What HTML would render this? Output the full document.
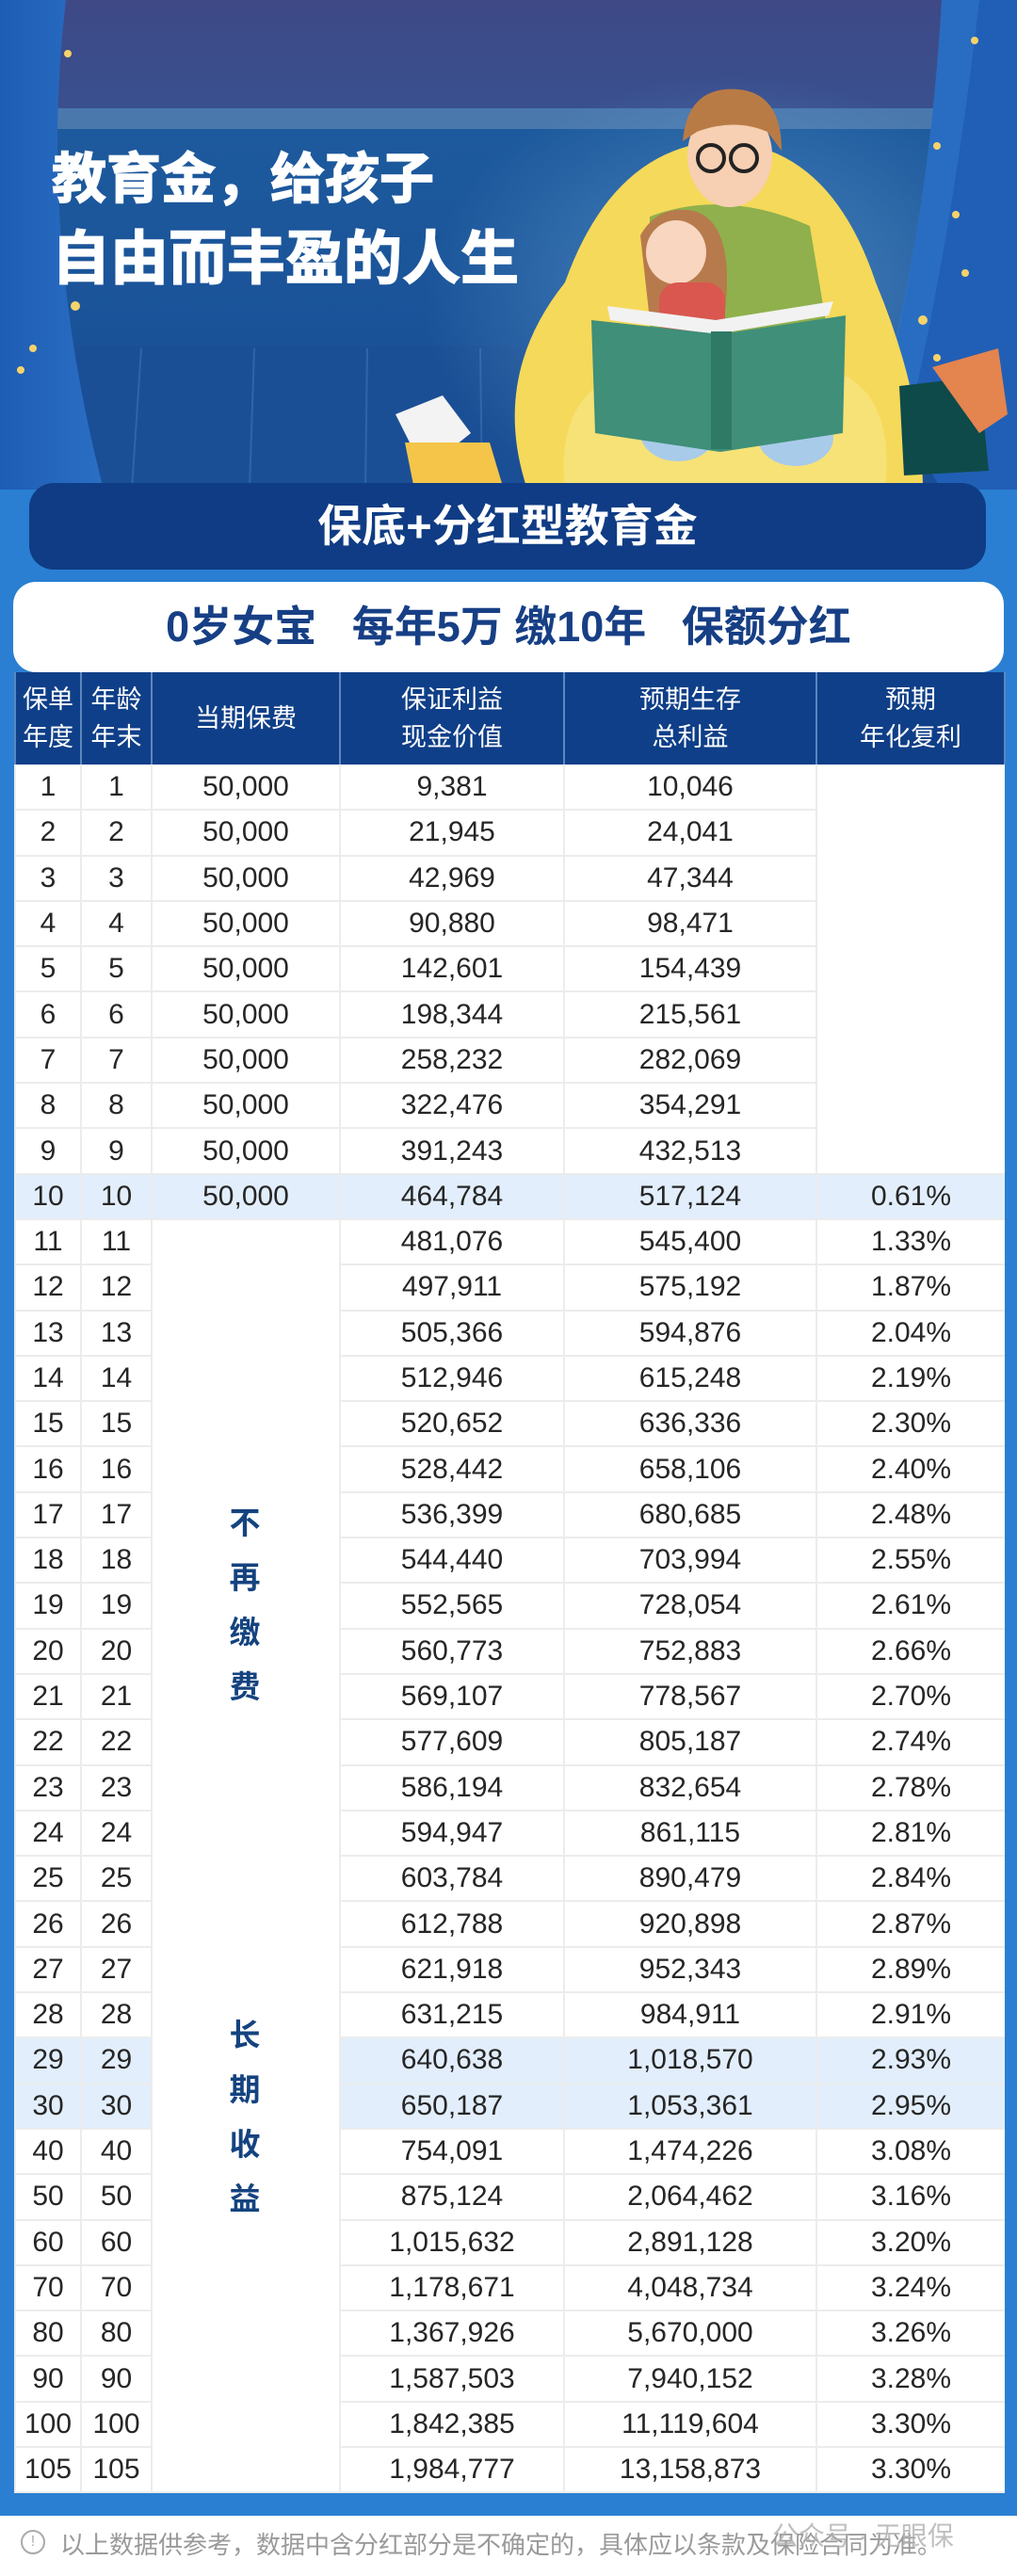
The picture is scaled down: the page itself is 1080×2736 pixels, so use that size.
<!DOCTYPE html>
<html><head><meta charset="utf-8">
<style>
*{margin:0;padding:0;box-sizing:border-box}
body{width:1080px;height:2736px;position:relative;background:#fff;font-family:"Liberation Sans","Noto Sans CJK SC",sans-serif;overflow:hidden}
.abs{position:absolute}
#blue{left:0;width:1080px;top:520px;height:2152px;background:#2a7fd2}
#bar{left:31px;top:513px;width:1016px;height:92px;border-radius:26px;background:#0f3c84;color:#fff;font-weight:bold;font-size:47px;text-align:center;line-height:92px}
#sub{left:14px;top:618px;width:1052px;height:96px;border-radius:24px;background:#fff;color:#173f85;font-weight:bold;font-size:45px;text-align:center;line-height:96px}
table{position:absolute;left:15px;top:714px;width:1051px;border-collapse:collapse;table-layout:fixed}
th{background:#0f3f88;color:#fff;font-weight:normal;font-size:27px;line-height:40px;height:98px;border-left:2px solid #5d86bf;border-right:2px solid #5d86bf}
td{height:48.3px;font-size:30px;color:#262626;text-align:center;border-bottom:2px solid #ececec;border-left:2px solid #ececec;background:#fff;padding:0}
tr.h td.c{background:#e2eefb}
.vt{color:#14437f;font-weight:bold;font-size:33px;width:60px;text-align:center;line-height:58px}
#foot{left:0;top:2672px;width:1080px;height:64px;background:#fff}
</style></head><body>
<svg class="abs" style="left:0;top:0" width="1080" height="520" viewBox="0 0 1080 520">
<defs>
<linearGradient id="sky" x1="0" y1="0" x2="0" y2="1"><stop offset="0" stop-color="#3e4986"/><stop offset="1" stop-color="#39508f"/></linearGradient>
<linearGradient id="wall" x1="0" y1="0" x2="0" y2="1"><stop offset="0" stop-color="#1d5a9d"/><stop offset="1" stop-color="#1a5298"/></linearGradient>
<linearGradient id="cur" x1="0" y1="0" x2="1" y2="0"><stop offset="0" stop-color="#1f5db5"/><stop offset="1" stop-color="#2a6fc4"/></linearGradient>
<radialGradient id="glow" cx="0.5" cy="0.5" r="0.5"><stop offset="0" stop-color="#6ea9d8" stop-opacity="0.6"/><stop offset="1" stop-color="#6ea9d8" stop-opacity="0"/></radialGradient>
</defs>
<rect width="1080" height="520" fill="#1a5399"/>
<rect x="0" y="0" width="1080" height="120" fill="url(#sky)"/>
<rect x="0" y="115" width="1080" height="22" fill="#4a78ad"/>
<rect x="0" y="137" width="1080" height="230" fill="url(#wall)"/>
<rect x="0" y="367" width="1080" height="153" fill="#1b4f95"/>
<g stroke="#2c66a8" stroke-width="2"><line x1="150" y1="370" x2="140" y2="520"/><line x1="270" y1="370" x2="265" y2="520"/><line x1="390" y1="370" x2="388" y2="520"/><line x1="510" y1="370" x2="512" y2="520"/></g>
<ellipse cx="780" cy="320" rx="330" ry="240" fill="url(#glow)"/>
<path d="M0 0 L70 0 Q40 250 110 520 L0 520Z" fill="url(#cur)"/>
<path d="M1080 0 L1000 0 Q990 200 940 420 L1000 520 L1080 520Z" fill="#215fb6"/>
<path d="M1000 0 Q985 250 930 440 L960 470 Q1010 260 1040 0Z" fill="#2e76c9" opacity="0.6"/>
<g fill="#f6d36a"><circle cx="72" cy="57" r="4"/><circle cx="80" cy="325" r="5"/><circle cx="35" cy="370" r="4"/><circle cx="22" cy="393" r="4"/><circle cx="1035" cy="43" r="4"/><circle cx="995" cy="155" r="4"/><circle cx="1015" cy="228" r="4"/><circle cx="980" cy="340" r="5"/><circle cx="995" cy="380" r="4"/><circle cx="1025" cy="290" r="4"/></g>
<path d="M560 520 Q520 400 600 300 Q650 160 760 150 Q880 150 930 300 Q980 420 980 520Z" fill="#f5d95a"/>
<path d="M600 520 Q590 430 650 400 L900 400 Q950 430 940 520Z" fill="#f7e277"/>
<path d="M690 230 Q770 200 860 240 L890 420 L690 420Z" fill="#8fb04c"/>
<ellipse cx="775" cy="165" rx="45" ry="55" fill="#f7cfb2"/>
<path d="M725 150 Q730 90 785 95 Q830 100 830 160 L815 140 Q780 125 740 140Z" fill="#b97b45"/>
<g fill="none" stroke="#222" stroke-width="4"><circle cx="755" cy="168" r="14"/><circle cx="790" cy="168" r="14"/></g>
<path d="M680 250 Q700 215 740 225 Q780 240 770 330 L690 340Z" fill="#b77a4c"/>
<ellipse cx="718" cy="268" rx="32" ry="34" fill="#f8d6c0"/>
<rect x="700" y="300" width="70" height="60" rx="20" fill="#d9574f"/>
<ellipse cx="720" cy="460" rx="40" ry="30" fill="#a8cbe9"/>
<ellipse cx="845" cy="465" rx="40" ry="30" fill="#a8cbe9"/>
<path d="M645 325 L760 340 L885 320 L880 335 L760 355 L648 340Z" fill="#f2f2f2"/>
<path d="M628 340 L765 355 L898 335 L895 460 L765 480 L632 460Z" fill="#3f8f79"/>
<rect x="755" y="352" width="22" height="125" fill="#2f7a64"/>
<path d="M420 440 L470 420 L500 460 L450 500Z" fill="#f3f3f3"/>
<path d="M430 470 L520 470 L535 520 L440 520Z" fill="#f5c54a"/>
<path d="M955 410 L1040 400 L1050 500 L960 505Z" fill="#0e4a4a"/>
<path d="M990 390 L1060 370 L1070 440 L1040 460Z" fill="#e4844f"/>
<text x="55" y="210" font-family="Liberation Sans,'Noto Sans CJK SC',sans-serif" font-weight="bold" font-size="58" fill="#fff" stroke="#fff" stroke-width="1.5">教育金，给孩子</text>
<text x="55" y="296" font-family="Liberation Sans,'Noto Sans CJK SC',sans-serif" font-weight="bold" font-size="62" fill="#fff" stroke="#fff" stroke-width="1.5">自由而丰盈的人生</text>
</svg>
<div id="blue" class="abs"></div>
<div id="bar" class="abs">保底+分红型教育金</div>
<div id="sub" class="abs">0岁女宝&nbsp;&nbsp;&nbsp;每年5万 缴10年&nbsp;&nbsp;&nbsp;保额分红</div>
<table>
<colgroup><col style="width:70px"><col style="width:75px"><col style="width:200px"><col style="width:238px"><col style="width:268px"><col style="width:200px"></colgroup>
<tr><th>保单<br>年度</th><th>年龄<br>年末</th><th>当期保费</th><th>保证利益<br>现金价值</th><th>预期生存<br>总利益</th><th>预期<br>年化复利</th></tr>
<tr><td>1</td><td>1</td><td>50,000</td><td>9,381</td><td>10,046</td><td rowspan="9"></td></tr>
<tr><td>2</td><td>2</td><td>50,000</td><td>21,945</td><td>24,041</td></tr>
<tr><td>3</td><td>3</td><td>50,000</td><td>42,969</td><td>47,344</td></tr>
<tr><td>4</td><td>4</td><td>50,000</td><td>90,880</td><td>98,471</td></tr>
<tr><td>5</td><td>5</td><td>50,000</td><td>142,601</td><td>154,439</td></tr>
<tr><td>6</td><td>6</td><td>50,000</td><td>198,344</td><td>215,561</td></tr>
<tr><td>7</td><td>7</td><td>50,000</td><td>258,232</td><td>282,069</td></tr>
<tr><td>8</td><td>8</td><td>50,000</td><td>322,476</td><td>354,291</td></tr>
<tr><td>9</td><td>9</td><td>50,000</td><td>391,243</td><td>432,513</td></tr>
<tr class="h"><td class="c">10</td><td class="c">10</td><td class="c">50,000</td><td class="c">464,784</td><td class="c">517,124</td><td class="c">0.61%</td></tr>
<tr><td>11</td><td>11</td><td rowspan="28"></td><td>481,076</td><td>545,400</td><td>1.33%</td></tr>
<tr><td>12</td><td>12</td><td>497,911</td><td>575,192</td><td>1.87%</td></tr>
<tr><td>13</td><td>13</td><td>505,366</td><td>594,876</td><td>2.04%</td></tr>
<tr><td>14</td><td>14</td><td>512,946</td><td>615,248</td><td>2.19%</td></tr>
<tr><td>15</td><td>15</td><td>520,652</td><td>636,336</td><td>2.30%</td></tr>
<tr><td>16</td><td>16</td><td>528,442</td><td>658,106</td><td>2.40%</td></tr>
<tr><td>17</td><td>17</td><td>536,399</td><td>680,685</td><td>2.48%</td></tr>
<tr><td>18</td><td>18</td><td>544,440</td><td>703,994</td><td>2.55%</td></tr>
<tr><td>19</td><td>19</td><td>552,565</td><td>728,054</td><td>2.61%</td></tr>
<tr><td>20</td><td>20</td><td>560,773</td><td>752,883</td><td>2.66%</td></tr>
<tr><td>21</td><td>21</td><td>569,107</td><td>778,567</td><td>2.70%</td></tr>
<tr><td>22</td><td>22</td><td>577,609</td><td>805,187</td><td>2.74%</td></tr>
<tr><td>23</td><td>23</td><td>586,194</td><td>832,654</td><td>2.78%</td></tr>
<tr><td>24</td><td>24</td><td>594,947</td><td>861,115</td><td>2.81%</td></tr>
<tr><td>25</td><td>25</td><td>603,784</td><td>890,479</td><td>2.84%</td></tr>
<tr><td>26</td><td>26</td><td>612,788</td><td>920,898</td><td>2.87%</td></tr>
<tr><td>27</td><td>27</td><td>621,918</td><td>952,343</td><td>2.89%</td></tr>
<tr><td>28</td><td>28</td><td>631,215</td><td>984,911</td><td>2.91%</td></tr>
<tr class="h"><td class="c">29</td><td class="c">29</td><td class="c">640,638</td><td class="c">1,018,570</td><td class="c">2.93%</td></tr>
<tr class="h"><td class="c">30</td><td class="c">30</td><td class="c">650,187</td><td class="c">1,053,361</td><td class="c">2.95%</td></tr>
<tr><td>40</td><td>40</td><td>754,091</td><td>1,474,226</td><td>3.08%</td></tr>
<tr><td>50</td><td>50</td><td>875,124</td><td>2,064,462</td><td>3.16%</td></tr>
<tr><td>60</td><td>60</td><td>1,015,632</td><td>2,891,128</td><td>3.20%</td></tr>
<tr><td>70</td><td>70</td><td>1,178,671</td><td>4,048,734</td><td>3.24%</td></tr>
<tr><td>80</td><td>80</td><td>1,367,926</td><td>5,670,000</td><td>3.26%</td></tr>
<tr><td>90</td><td>90</td><td>1,587,503</td><td>7,940,152</td><td>3.28%</td></tr>
<tr><td>100</td><td>100</td><td>1,842,385</td><td>11,119,604</td><td>3.30%</td></tr>
<tr><td>105</td><td>105</td><td>1,984,777</td><td>13,158,873</td><td>3.30%</td></tr>
</table>
<div class="abs vt" style="left:230px;top:1589px">不<br>再<br>缴<br>费</div>
<div class="abs vt" style="left:230px;top:2133px">长<br>期<br>收<br>益</div>
<div id="foot" class="abs"></div>
<div class="abs" style="left:22px;top:2687px;width:26px;height:26px;border:2px solid #aaa;border-radius:50%;color:#aaa;font-size:16px;text-align:center;line-height:22px">!</div>
<div class="abs" style="left:64px;top:2683px;font-size:26px;color:#9a9a9a;white-space:nowrap">以上数据供参考，数据中含分红部分是不确定的，具体应以条款及保险合同为准。</div>
<div class="abs" style="left:820px;top:2672px;font-size:28px;color:#b0b0b0;opacity:0.8;white-space:nowrap">公众号 · 无眼保</div>
</body></html>
